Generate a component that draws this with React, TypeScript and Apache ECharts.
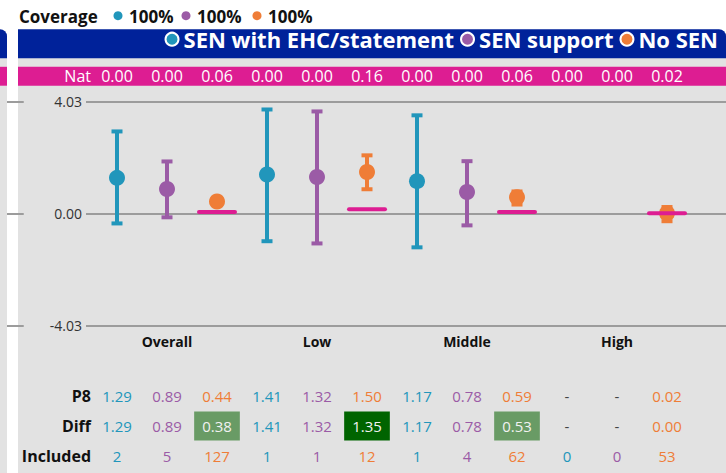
import React, { useEffect, useRef } from 'react';
import * as echarts from 'echarts';

// ---------------- data ----------------
const groups = ['Overall', 'Low', 'Middle', 'High'];
const seriesNames = ['SEN with EHC/statement', 'SEN support', 'No SEN'];
const coverage = [100, 100, 100];

const senEhcP8 = [1.29, 1.41, 1.17, null];
const senSupportP8 = [0.89, 1.32, 0.78, null];
const noSenP8 = [0.44, 1.5, 0.59, 0.02];

const senEhcLower = [-0.35, -0.99, -1.21, null];
const senEhcUpper = [2.96, 3.75, 3.54, null];
const senSupportLower = [-0.13, -1.07, -0.42, null];
const senSupportUpper = [1.88, 3.68, 1.89, null];
const noSenLower = [0.32, 0.88, 0.33, -0.27];
const noSenUpper = [0.56, 2.1, 0.8, 0.24];

const senEhcNat = [0, 0, 0, 0];
const senSupportNat = [0, 0, 0, 0];
const noSenNat = [0.06, 0.16, 0.06, 0.02];

const senEhcDiff = [1.29, 1.41, 1.17, null];
const senSupportDiff = [0.89, 1.32, 0.78, null];
const noSenDiff = [0.38, 1.35, 0.53, 0.0];
// significance of the difference: 0 none, 1 above, 2 well above
const senEhcSig = [0, 0, 0, 0];
const senSupportSig = [0, 0, 0, 0];
const noSenSig = [1, 2, 1, 0];

const senEhcIncluded = [2, 1, 1, 0];
const senSupportIncluded = [5, 1, 4, 0];
const noSenIncluded = [127, 12, 62, 53];

const natLineSeries = [false, false, true];
const yLimit = 4.03;

// ---------------- styles ----------------
const FONT = '"Open Sans", "Noto Sans", sans-serif';
const COLORS = ['#2196bb', '#9b5ba6', '#ef7d37'];
const PINK = '#dd1d92';
const NAVY = '#00229a';
const BG = '#e2e2e2';
const GRIDLINE = '#9c9c9c';

type Col = {
  id: string;
  s: number;
  p8: number | null;
  lower: number | null;
  upper: number | null;
  nat: number;
  diff: number | null;
  sig: number;
  n: number;
};

const perSeries = [
  { p8: senEhcP8, lo: senEhcLower, hi: senEhcUpper, nat: senEhcNat, diff: senEhcDiff, sig: senEhcSig, n: senEhcIncluded },
  { p8: senSupportP8, lo: senSupportLower, hi: senSupportUpper, nat: senSupportNat, diff: senSupportDiff, sig: senSupportSig, n: senSupportIncluded },
  { p8: noSenP8, lo: noSenLower, hi: noSenUpper, nat: noSenNat, diff: noSenDiff, sig: noSenSig, n: noSenIncluded },
];

const cols: Col[] = [];
groups.forEach((g, gi) => {
  perSeries.forEach((d, s) => {
    cols.push({
      id: `${g}-${s}`,
      s,
      p8: d.p8[gi],
      lower: d.lo[gi],
      upper: d.hi[gi],
      nat: d.nat[gi],
      diff: d.diff[gi],
      sig: d.sig[gi],
      n: d.n[gi],
    });
  });
});
const colIds = cols.map((c) => c.id);

const fmt = (v: number | null) => (v === null ? '-' : v.toFixed(2));

const tableRich: any = {
  c0: { color: COLORS[0], fontSize: 15, fontFamily: FONT },
  c1: { color: COLORS[1], fontSize: 15, fontFamily: FONT },
  c2: { color: COLORS[2], fontSize: 15, fontFamily: FONT },
  na: { color: '#444', fontSize: 15, fontFamily: FONT },
  g1: { color: '#f2f2f2', backgroundColor: '#699b65', fontSize: 15, fontFamily: FONT, padding: [7, 8, 7, 8] },
  g2: { color: '#f2f2f2', backgroundColor: '#006400', fontSize: 15, fontFamily: FONT, padding: [7, 8, 7, 8] },
};

const GRID_TOP = 101.7;
const GRID_BOTTOM = 147.3;

function tableAxis(name: string, offset: number, fmtFn: (c: Col) => string) {
  return {
    type: 'category',
    gridIndex: 1,
    position: 'bottom',
    offset,
    data: colIds,
    axisLine: { show: false },
    axisTick: { show: false },
    splitLine: { show: false },
    name,
    nameLocation: 'start',
    nameGap: 1,
    nameTextStyle: { color: '#111', fontSize: 16, fontWeight: 'bold', fontFamily: FONT, align: 'right', verticalAlign: 'middle' },
    axisLabel: {
      interval: 0,
      margin: 0,
      verticalAlign: 'middle',
      formatter: (_v: string, i: number) => fmtFn(cols[i]),
      rich: tableRich,
    },
  };
}

function buildOption(): any {
  const errorSeries = [0, 1, 2].map((s) => ({
    type: 'custom',
    name: seriesNames[s],
    xAxisIndex: 1,
    yAxisIndex: 1,
    z: 3,
    encode: { x: 0, y: [1, 2] },
    data: cols
      .map((c, i) => ({ c, i }))
      .filter(({ c }) => c.s === s && c.lower !== null && c.upper !== null)
      .map(({ c, i }) => [i, c.lower, c.upper]),
    renderItem: (params: any, api: any) => {
      const x = api.coord([api.value(0), 0])[0];
      const yLo = api.coord([api.value(0), api.value(1)])[1];
      const yHi = api.coord([api.value(0), api.value(2)])[1];
      const hw = 5.5;
      const style = { stroke: COLORS[s], lineWidth: 4 };
      return {
        type: 'group',
        children: [
          { type: 'line', shape: { x1: x, y1: yHi, x2: x, y2: yLo }, style },
          { type: 'line', shape: { x1: x - hw, y1: yHi, x2: x + hw, y2: yHi }, style },
          { type: 'line', shape: { x1: x - hw, y1: yLo, x2: x + hw, y2: yLo }, style },
        ],
      };
    },
  }));

  const dotSeries = [0, 1, 2].map((s) => ({
    type: 'scatter',
    name: seriesNames[s],
    xAxisIndex: 1,
    yAxisIndex: 1,
    z: 4,
    symbol: 'circle',
    symbolSize: 16,
    itemStyle: { color: COLORS[s], opacity: 1 },
    data: cols
      .map((c, i) => ({ c, i }))
      .filter(({ c }) => c.s === s && c.p8 !== null)
      .map(({ c, i }) => [i, c.p8]),
  }));

  const natSeries = {
    type: 'custom',
    name: 'Nat',
    xAxisIndex: 1,
    yAxisIndex: 1,
    z: 5,
    encode: { x: 0, y: 1 },
    data: cols
      .map((c, i) => ({ c, i }))
      .filter(({ c }) => natLineSeries[c.s])
      .map(({ c, i }) => [i, c.nat]),
    renderItem: (params: any, api: any) => {
      const [x, y] = api.coord([api.value(0), api.value(1)]);
      return {
        type: 'line',
        shape: { x1: x - 18, y1: y, x2: x + 18, y2: y },
        style: { stroke: PINK, lineWidth: 4, lineCap: 'round' },
      };
    },
  };

  const graphic: any[] = [
    // left (neighbouring) panel
    { type: 'rect', z: -10, shape: { x: 0, y: 58, width: 7, height: 415 }, style: { fill: BG } },
    { type: 'rect', z: -9, shape: { x: -10, y: 29.3, width: 17, height: 29, r: [0, 7, 0, 0] }, style: { fill: NAVY } },
    { type: 'rect', z: -9, shape: { x: 0, y: 66.8, width: 7, height: 18.9 }, style: { fill: PINK } },
    // main panel
    { type: 'rect', z: -10, shape: { x: 18, y: 58, width: 708, height: 415 }, style: { fill: BG } },
    { type: 'rect', z: -9, shape: { x: 18, y: 29.3, width: 708, height: 29, r: [0, 7, 0, 0] }, style: { fill: NAVY } },
    { type: 'rect', z: -9, shape: { x: 18, y: 66.8, width: 708, height: 18.9 }, style: { fill: PINK } },
    {
      type: 'text', x: 19, y: 16.5,
      style: { text: 'Coverage', font: `bold 17px ${FONT}`, lineHeight: 17, fill: '#111', verticalAlign: 'middle' },
    },
  ];
  const covX = [118, 186, 257];
  coverage.forEach((v, i) => {
    graphic.push({ type: 'circle', shape: { cx: covX[i], cy: 15.7, r: 4.5 }, style: { fill: COLORS[i] } });
    graphic.push({
      type: 'text', x: covX[i] + 11, y: 16.5,
      style: { text: `${v}%`, font: `bold 17px ${FONT}`, lineHeight: 17, fill: '#111', verticalAlign: 'middle' },
    });
  });

  return {
    animation: false,
    backgroundColor: '#ffffff',
    textStyle: { fontFamily: FONT },
    graphic,
    legend: {
      right: 8,
      top: 28.2,
      padding: 0,
      itemWidth: 13,
      itemHeight: 13,
      itemGap: 6,
      icon: 'circle',
      selectedMode: false,
      textStyle: { color: '#ffffff', fontSize: 22, fontWeight: 'bold', fontFamily: FONT, lineHeight: 18 },
      data: seriesNames.map((n, i) => ({
        name: n,
        itemStyle: { color: COLORS[i], borderColor: '#ffffff', borderWidth: 2 },
      })),
    },
    grid: [
      { left: 86, right: 0, top: GRID_TOP, bottom: GRID_BOTTOM },
      { left: 92, right: 34, top: GRID_TOP, bottom: GRID_BOTTOM },
      { left: -60, width: 67, top: GRID_TOP, bottom: GRID_BOTTOM },
    ],
    xAxis: [
      { type: 'value', gridIndex: 0, min: 0, max: 1, show: false },
      { type: 'category', gridIndex: 1, data: colIds, show: false },
      {
        type: 'category',
        gridIndex: 1,
        position: 'bottom',
        data: groups,
        axisLine: { show: false },
        axisTick: { show: false },
        axisLabel: {
          interval: 0,
          margin: 16,
          verticalAlign: 'middle',
          color: '#111',
          fontSize: 14,
          fontWeight: 'bold',
          fontFamily: FONT,
        },
      },
      {
        type: 'category',
        gridIndex: 1,
        position: 'top',
        offset: GRID_TOP - 76.2,
        data: colIds,
        axisLine: { show: false },
        axisTick: { show: false },
        name: 'Nat',
        nameLocation: 'start',
        nameGap: 1,
        nameTextStyle: { color: '#ffffff', fontSize: 16, fontFamily: FONT, align: 'right', verticalAlign: 'middle' },
        axisLabel: {
          interval: 0,
          margin: 0,
          verticalAlign: 'middle',
          color: '#ffffff',
          fontSize: 16,
          fontFamily: FONT,
          formatter: (_v: string, i: number) => cols[i].nat.toFixed(2),
        },
      },
      tableAxis('P8', 70, (c) => (c.p8 === null ? '{na|-}' : `{c${c.s}|${fmt(c.p8)}}`)),
      tableAxis('Diff', 100.3, (c) => {
        if (c.diff === null) return '{na|-}';
        if (c.sig === 1) return `{g1|${fmt(c.diff)}}`;
        if (c.sig === 2) return `{g2|${fmt(c.diff)}}`;
        return `{c${c.s}|${fmt(c.diff)}}`;
      }),
      tableAxis('Included', 130.3, (c) => `{c${c.s}|${c.n}}`),
      { type: 'value', gridIndex: 2, min: 0, max: 1, show: false },
    ],
    yAxis: [
      {
        type: 'value',
        gridIndex: 0,
        min: -yLimit,
        max: yLimit,
        interval: yLimit,
        axisLine: { show: false },
        axisTick: { show: false },
        splitLine: { show: true, lineStyle: { color: GRIDLINE, width: 2 } },
        axisLabel: {
          margin: 4,
          color: '#333',
          fontSize: 14,
          fontFamily: FONT,
          formatter: (v: number) => v.toFixed(2),
        },
      },
      { type: 'value', gridIndex: 1, min: -yLimit, max: yLimit, show: false },
      {
        type: 'value',
        gridIndex: 2,
        min: -yLimit,
        max: yLimit,
        interval: yLimit,
        axisLine: { show: false },
        axisTick: { show: false },
        axisLabel: { show: false },
        splitLine: { show: true, lineStyle: { color: GRIDLINE, width: 2 } },
      },
    ],
    series: [...errorSeries, ...dotSeries, natSeries],
  };
}

export default function App() {
  const ref = useRef<HTMLDivElement>(null);
  useEffect(() => {
    if (!ref.current) return;
    const chart = echarts.init(ref.current, undefined, { renderer: 'svg' });
    chart.setOption(buildOption());
    return () => chart.dispose();
  }, []);
  return (
    <div
      ref={ref}
      style={{ position: 'absolute', left: 0, top: 0, width: 726, height: 473 }}
    />
  );
}
